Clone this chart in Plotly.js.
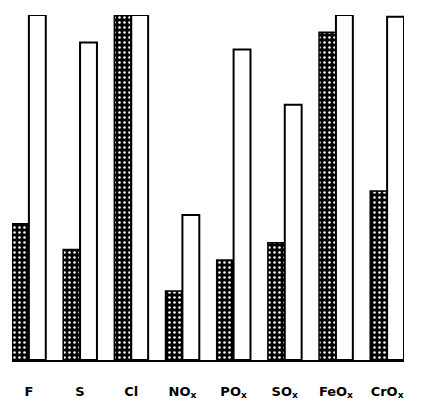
<!DOCTYPE html>
<html>
<head>
<meta charset="utf-8">
<script src="https://cdn.plot.ly/plotly-3.0.1.min.js"></script>
<style>html,body{margin:0;padding:0;background:#fff;}#chart{width:423px;height:413px;}</style>
</head>
<body>
<div id="chart"></div>
<script>
// Data (relative heights, tallest open bar = 100)
const categories = ["F", "S", "Cl", "NOx", "POx", "SOx", "FeOx", "CrOx"];
const tickLabels = ["F", "S", "Cl", "NO<sub>x</sub>", "PO<sub>x</sub>", "SO<sub>x</sub>", "FeO<sub>x</sub>", "CrO<sub>x</sub>"];
const darkValues = [39.5, 32, 100, 20, 29, 34, 95, 49];
const openValues = [100, 92, 100, 42, 90, 74, 100, 99.5];

const traces = [
  {
    type: "bar",
    x: categories,
    y: darkValues,
    name: "dark",
    marker: {
      color: "#000",
      line: {color: "#000", width: 1.5},
      pattern: {shape: ".", bgcolor: "#000", fgcolor: "#fff", size: 5, solidity: 0.2}
    },
    hoverinfo: "x+y"
  },
  {
    type: "bar",
    x: categories,
    y: openValues,
    name: "open",
    marker: {color: "#fff", line: {color: "#000", width: 2}},
    hoverinfo: "x+y"
  }
];

const layout = {
  width: 423,
  height: 413,
  margin: {l: 12, r: 19, t: 15, b: 53},
  paper_bgcolor: "#fff",
  plot_bgcolor: "#fff",
  showlegend: false,
  barmode: "group",
  bargap: 0.34,
  bargroupgap: 0,
  font: {family: "DejaVu Sans, sans-serif", color: "#000"},
  xaxis: {
    type: "category",
    range: [-0.33, 7.33],
    tickmode: "array",
    tickvals: categories,
    ticktext: tickLabels,
    showgrid: false,
    zeroline: false,
    showline: true,
    linecolor: "#000",
    linewidth: 2,
    ticks: "",
    ticklabelstandoff: 18,
    tickfont: {size: 13, color: "#000", family: "DejaVu Sans, sans-serif", weight: "bold"}
  },
  yaxis: {
    range: [0, 100],
    visible: false,
    showgrid: false,
    zeroline: false
  }
};

Plotly.newPlot("chart", traces, layout, {displayModeBar: false, staticPlot: true});
</script>
</body>
</html>
